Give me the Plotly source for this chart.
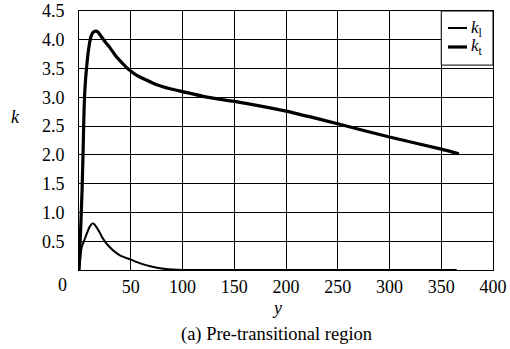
import plotly.graph_objects as go

# Wall-normal coordinate y and the two profiles in the pre-transitional region
y_kt = [0, 1, 2, 3, 4, 4.5, 5.3, 6.3, 7.5, 9, 10.8, 12.5, 14.5, 16.5, 18.5, 21,
        25, 30, 35, 40, 47, 55, 65, 75, 88, 100, 125, 150, 200, 250, 300, 350, 367]
k_t = [0, 0.45, 0.9, 1.4, 2.1, 2.5, 3.0, 3.3, 3.55, 3.8, 4.0, 4.1, 4.14, 4.15,
       4.13, 4.07, 3.97, 3.86, 3.73, 3.63, 3.5, 3.39, 3.3, 3.22, 3.15, 3.1, 3.0,
       2.93, 2.76, 2.54, 2.31, 2.1, 2.02]

y_kl = [0, 1, 2, 3, 5, 7, 9, 11, 13, 15, 17, 20, 23, 26, 30, 35, 40, 50, 60, 70,
        80, 90, 100, 200, 365]
k_l = [0, 0.14, 0.33, 0.42, 0.51, 0.61, 0.7, 0.77, 0.81, 0.79, 0.74, 0.65, 0.55,
       0.47, 0.39, 0.31, 0.25, 0.18, 0.11, 0.06, 0.025, 0.008, 0, 0, 0]

x_ticks = [50, 100, 150, 200, 250, 300, 350, 400]
y_ticks = [0.5, 1.0, 1.5, 2.0, 2.5, 3.0, 3.5, 4.0, 4.5]

FONT = "Liberation Serif"

# plot area in pixels: x 79..493, y 11..270
L, R, T, B = 79, 493, 11, 270
W, H = R - L, B - T


def px(x):
    return (x - L) / W


def py(y):
    return (B - y) / H


def label(x, y, text, size=18, xanchor="center"):
    fig.add_annotation(x=px(x), y=py(y), xref="paper", yref="paper",
                       xanchor=xanchor, yanchor="middle", showarrow=False,
                       text=text, font=dict(size=size, family=FONT, color="black"))


fig = go.Figure()
fig.add_trace(go.Scatter(x=y_kl, y=k_l, mode="lines", name="k_l",
                         line=dict(color="black", width=2, shape="spline",
                                   smoothing=0.5),
                         showlegend=False))
fig.add_trace(go.Scatter(x=y_kt, y=k_t, mode="lines", name="k_t",
                         line=dict(color="black", width=3.2, shape="spline",
                                   smoothing=0.5),
                         showlegend=False))

# legend box in the upper-right cell
fig.add_shape(type="rect", xref="x", yref="y", x0=350, x1=400, y0=3.56, y1=4.5,
              fillcolor="white", line=dict(color="black", width=1), layer="above")
fig.add_shape(type="line", xref="paper", yref="paper", x0=px(448), x1=px(467),
              y0=py(28), y1=py(28), line=dict(color="black", width=2),
              layer="above")
fig.add_shape(type="line", xref="paper", yref="paper", x0=px(448), x1=px(467),
              y0=py(47), y1=py(47), line=dict(color="black", width=3.2),
              layer="above")
label(469, 29, "<i>k</i><sub>l</sub>", size=17, xanchor="left")
label(469, 47, "<i>k</i><sub>t</sub>", size=17, xanchor="left")

# origin label, axis titles and caption
label(62, 285, "0")
label(15, 117, "<i>k</i>")
label(277, 308, "<i>y</i>")
label(276, 334, "(a) Pre-transitional region", size=18.5)

axis_common = dict(showline=True, linecolor="black", linewidth=1, mirror=True,
                   showgrid=True, gridcolor="black", gridwidth=1, zeroline=False,
                   ticks="", automargin=False,
                   tickfont=dict(size=18, family=FONT, color="black"))
fig.update_xaxes(range=[0, 400], tickvals=x_ticks,
                 ticktext=[str(v) for v in x_ticks], ticklabelstandoff=0,
                 **axis_common)
fig.update_yaxes(range=[0, 4.5], tickvals=y_ticks,
                 ticktext=[f"{v:.1f}" for v in y_ticks], ticklabelstandoff=10,
                 **axis_common)

fig.update_layout(width=510, height=349, plot_bgcolor="white",
                  paper_bgcolor="white",
                  margin=dict(l=L, r=510 - R, t=T, b=349 - B, autoexpand=False))

fig.write_html("out.html")
